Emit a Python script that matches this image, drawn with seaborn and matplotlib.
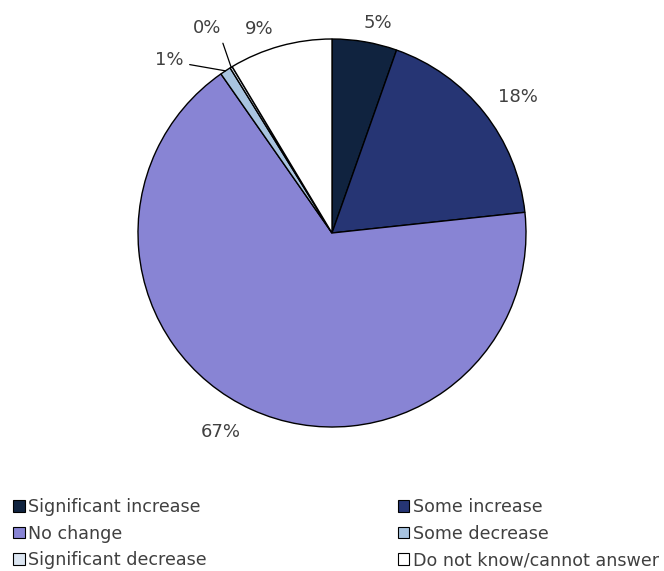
import numpy as np
import seaborn as sns
import matplotlib.pyplot as plt
from matplotlib.patches import Patch

sns.set_theme(style="white")
plt.rcParams['font.family'] = ['DejaVu Sans']

# data
categories = ['Significant increase', 'Some increase', 'No change',
              'Some decrease', 'Significant decrease', 'Do not know/cannot answer']
shares = [5.4, 17.9, 67.0, 0.9, 0.2, 8.6]
pct_labels = ['5%', '18%', '67%', '1%', '0%', '9%']
colors = ['#10233f', '#263574', '#8884d4', '#a9c4e0', '#dce6f2', '#ffffff']

# where the data labels sit (in pie-radius units)
label_xy = [(0.235, 1.085), (0.961, 0.699), (-0.572, -1.024),
            (-0.838, 0.892), (-0.646, 1.055), (-0.376, 1.054)]
leader = {'1%': (1.0, 0.3), '0%': (1.0, 0.0)}

fig = plt.figure(figsize=(6.64, 5.71), dpi=100)
k = 1.3
w_px = 2 * 194 * k
ax = fig.add_axes([(332 - w_px / 2) / 664, (338 - w_px / 2) / 571, w_px / 664, w_px / 571])

wedges, _ = ax.pie(shares, colors=colors, startangle=90, counterclock=False,
                   wedgeprops=dict(edgecolor='black', linewidth=1.0))
ax.set_xlim(-k, k)
ax.set_ylim(-k, k)
ax.set_aspect('equal')
ax.axis('off')

txt_color = '#404040'
for i, wdg in enumerate(wedges):
    mid = np.deg2rad((wdg.theta1 + wdg.theta2) / 2)
    x, y = np.cos(mid), np.sin(mid)
    if pct_labels[i] in leader:
        ax.annotate(pct_labels[i], xy=(x, y), xytext=label_xy[i],
                    ha='center', va='center', fontsize=13, color=txt_color,
                    arrowprops=dict(arrowstyle='-', color='black', lw=0.9,
                                    relpos=leader[pct_labels[i]], shrinkA=2, shrinkB=0),
                    annotation_clip=False)
    else:
        ax.text(*label_xy[i], pct_labels[i], ha='center', va='center',
                fontsize=13, color=txt_color, clip_on=False)

handles = [Patch(facecolor=c, edgecolor='black', linewidth=0.8) for c in colors]
left = [0, 2, 4]
right = [1, 3, 5]
for idx, xpos in [(left, 0.015), (right, 0.594)]:
    fig.legend([handles[i] for i in idx], [categories[i] for i in idx],
               loc='upper left', bbox_to_anchor=(xpos, 0.134),
               frameon=False, fontsize=12.6, labelcolor=txt_color,
               handlelength=0.65, handleheight=0.65, handletextpad=0.2,
               labelspacing=0.5, borderpad=0.2, borderaxespad=0)

plt.savefig('out.png', dpi=100)
